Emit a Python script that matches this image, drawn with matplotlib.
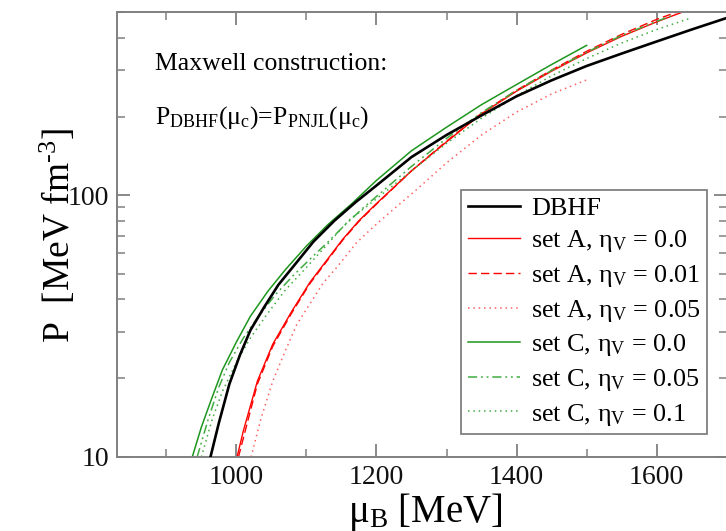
import numpy as np
import matplotlib
matplotlib.use('Agg')
import matplotlib.pyplot as plt
from matplotlib.ticker import FixedLocator, NullFormatter, LogLocator

plt.rcParams['font.family'] = ['Liberation Serif', 'DejaVu Serif']
plt.rcParams['mathtext.fontset'] = 'custom'
plt.rcParams['mathtext.rm'] = 'Liberation Serif'
plt.rcParams['mathtext.it'] = 'Liberation Serif:italic'

# DBHF
mu_dbhf = [963, 975, 990, 1005, 1020, 1040, 1060, 1085, 1110, 1140, 1170, 1200,
           1250, 1300, 1350, 1400, 1450, 1500, 1550, 1600, 1650, 1700]
p_dbhf = [10, 13.5, 19, 24.5, 30.5, 37.5, 45.5, 55, 66.5, 80, 94, 109,
          140, 170, 202, 239, 275, 312, 348, 387, 430, 476]

# set A, eta_V = 0.0
mu_a0 = [1001, 1010, 1030, 1052, 1079, 1105, 1128, 1152, 1175, 1200, 1250,
         1300, 1350, 1400, 1450, 1500, 1550, 1600, 1640]
p_a0 = [10, 12.6, 19.5, 27, 36, 46.5, 56, 68, 80, 93, 124,
        160, 205, 250, 298, 350, 405, 460, 505]

# set A, eta_V = 0.01
mu_a1 = [1003, 1012, 1030, 1052, 1079, 1105, 1128, 1152, 1175, 1200, 1250,
         1300, 1350, 1400, 1450, 1500, 1550, 1600, 1632]
p_a1 = [10, 12.4, 19, 26.5, 35.5, 46, 55.5, 67.5, 79.5, 92.5, 124,
        161, 206, 252, 301, 355, 412, 470, 505]

# set A, eta_V = 0.05
mu_a5 = [1021, 1035, 1052, 1070, 1086, 1105, 1124, 1145, 1171, 1195, 1219, 1257,
         1300, 1350, 1400, 1450, 1500]
p_a5 = [10, 14, 19.5, 25.5, 32, 38.5, 46.3, 53.7, 65.7, 75.5, 86, 105,
        133, 170, 208, 244, 276]

# set C, eta_V = 0.0
mu_c0 = [937, 950, 965, 980, 1000, 1020, 1045, 1070, 1100, 1130, 1165, 1200,
         1250, 1300, 1350, 1400, 1450, 1500]
p_c0 = [10, 13, 16.8, 21.5, 27.5, 34.5, 43, 52, 64, 77, 93, 114,
        148, 182, 222, 265, 316, 374]

# set C, eta_V = 0.05
mu_c5 = [944, 960, 975, 990, 1010, 1030, 1055, 1080, 1105, 1130, 1155, 1180, 1200,
         1250, 1300, 1350, 1400, 1450, 1500, 1550, 1600, 1625]
p_c5 = [10, 14, 18.5, 23, 28.5, 34, 41.5, 49, 57, 66, 77, 89, 99,
        129, 165, 207, 252, 300, 352, 408, 462, 490]

# set C, eta_V = 0.1
mu_c10 = [950, 965, 980, 1000, 1020, 1045, 1070, 1100, 1130, 1160, 1200, 1250,
          1300, 1350, 1400, 1450, 1500, 1550, 1600, 1648]
p_c10 = [10, 13.8, 17.8, 23, 28.5, 35.5, 43.5, 53, 65, 80, 97, 124,
         158, 197, 240, 286, 333, 382, 430, 475]

x_major = [1000, 1200, 1400, 1600]
x_minor = [900, 1100, 1300, 1500, 1700]

fig = plt.figure(figsize=(7.26, 5.31), dpi=100)
ax = fig.add_axes([117.3/726, 74/531, 609.4/726, 445.3/531])

ax.plot(mu_dbhf, p_dbhf, color='black', lw=1.9, label='DBHF', zorder=5)
ax.plot(mu_a0, p_a0, color='#ff0000', lw=1.0, label=r'set A, η$_{\mathrm{V}}$ = 0.0')
ax.plot(mu_a1, p_a1, color='#ff0000', lw=1.0, ls=(0, (6, 3)), label=r'set A, η$_{\mathrm{V}}$ = 0.01')
ax.plot(mu_a5, p_a5, color='#ff6060', lw=1.1, ls=(0, (1, 2.5)), label=r'set A, η$_{\mathrm{V}}$ = 0.05')
ax.plot(mu_c0, p_c0, color='#1e961e', lw=1.1, label=r'set C, η$_{\mathrm{V}}$ = 0.0')
ax.plot(mu_c5, p_c5, color='#40ac40', lw=1.1, ls=(0, (6, 2.5, 1.2, 2.5, 1.2, 2.5)),
        label=r'set C, η$_{\mathrm{V}}$ = 0.05')
ax.plot(mu_c10, p_c10, color='#40ac40', lw=1.1, ls=(0, (1, 2.5)), label=r'set C, η$_{\mathrm{V}}$ = 0.1')

ax.set_yscale('log')
ax.set_xlim(830, 1700)
ax.set_ylim(10, 503)

ax.xaxis.set_major_locator(FixedLocator(x_major))
ax.xaxis.set_minor_locator(FixedLocator(x_minor))
ax.yaxis.set_major_locator(FixedLocator([10, 100]))
ax.yaxis.set_minor_locator(LogLocator(base=10, subs=np.arange(2, 10)))
ax.yaxis.set_minor_formatter(NullFormatter())
ax.set_yticklabels(['10', '100'])

grey = '#808080'
for s in ax.spines.values():
    s.set_color(grey)
    s.set_linewidth(1.4)
ax.tick_params(which='both', direction='in', top=True, right=True, colors=grey,
               labelcolor='#111111', labelsize=20)
ax.tick_params(which='major', length=9.5, width=1.3, pad=6)
ax.tick_params(which='minor', length=5.5, width=1.1)

ax.text(0.505, -0.146, r'μ$_{\mathrm{B}}$ [MeV]', transform=ax.transAxes,
        ha='center', va='baseline', fontsize=28)
fig.text(70/726, 1 - 236/531, r'P  [MeV fm$^{\text{-3}}$]', rotation=90,
         rotation_mode='anchor', ha='center', va='baseline', fontsize=27)

ax.text(0.062, 0.869, 'Maxwell construction:', transform=ax.transAxes,
        fontsize=18.5, va='baseline')
ax.text(0.062, 0.748, r'P$_{\mathrm{DBHF}}$(μ$_{\mathrm{c}}$)=P$_{\mathrm{PNJL}}$(μ$_{\mathrm{c}}$)',
        transform=ax.transAxes, fontsize=18.5, va='baseline')

leg = ax.legend(loc='upper right', bbox_to_anchor=(0.9677, 0.5996), borderaxespad=0,
                fontsize=18.8, fancybox=False, handlelength=2.0, handletextpad=0.42,
                labelspacing=0.33, borderpad=0.25, framealpha=1)
leg.get_frame().set_edgecolor(grey)
leg.get_frame().set_linewidth(1.3)

fig.savefig('out.png', dpi=100)
